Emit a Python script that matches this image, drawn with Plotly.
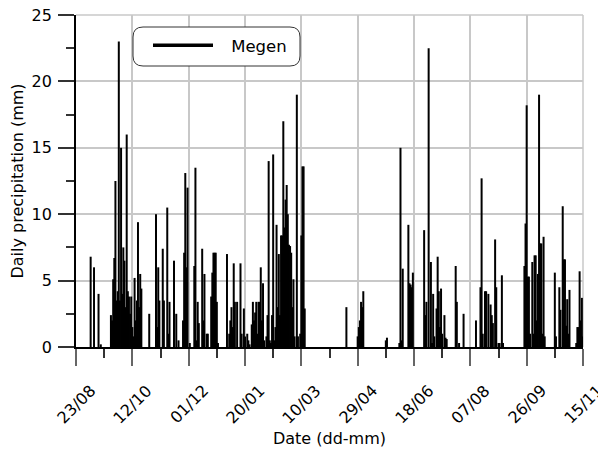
import plotly.graph_objects as go
import pandas as pd

start_date = "2007-08-23"
series_name = "Megen"
tick_labels = ["23/08", "12/10", "01/12", "20/01", "10/03", "29/04",
               "18/06", "07/08", "26/09", "15/11"]

# day offset from start date, and daily precipitation (mm)
rain_day = [13, 16, 20, 22,
            31, 32, 33, 34, 35, 36, 37, 38, 39, 40, 41, 42, 43, 44, 45, 46, 47, 48, 49,
            50, 51, 52, 53, 54, 55, 56, 57, 58,
            65, 71, 72, 73, 74, 77, 78, 81, 82, 83, 87, 89, 91,
            95, 96, 97, 98, 99, 101, 105, 106, 107, 108, 109, 112, 113, 114, 116, 117,
            120, 121, 122, 123, 124, 125, 126,
            134, 136, 137, 138, 139, 140, 141, 143, 146, 147, 149, 150, 152, 153, 154,
            156, 157, 158, 159, 160, 161, 162, 163, 164, 165, 166, 167, 169, 170, 171,
            172, 173, 174, 175, 176, 177, 178, 179, 180, 181, 182, 183, 184, 185, 186,
            187, 188, 189, 190, 191, 192, 193, 194, 196, 197, 199, 200, 201, 202, 203,
            240, 250, 251, 252, 253, 254, 255, 275, 276,
            287, 288, 289, 290, 295, 296, 297, 298, 299,
            309, 310, 311, 313, 315, 316, 317, 318, 320, 321, 322, 323, 324, 325, 327,
            328, 329, 337, 338, 340, 344,
            355, 359, 360, 361, 363, 364, 366, 368, 369, 370, 372, 373, 375, 376, 378, 379,
            398, 399, 400, 401, 402, 403, 405, 406, 407, 408, 409, 410, 411, 412, 413,
            414, 415, 416, 425, 426, 429, 430, 432, 433, 434, 435, 436, 437, 438,
            444, 445, 446, 447, 448, 449, 450]
rain_mm = [6.8, 6.0, 4.0, 0.2,
           2.4, 2.0, 5.1, 6.7, 12.5, 3.5, 4.2, 23.0, 3.5, 15.0, 4.0, 7.5, 6.5, 3.0, 16.0, 4.2, 3.8, 2.5, 3.8,
           1.5, 0.8, 5.2, 2.0, 3.5, 9.4, 3.0, 5.5, 4.4,
           2.5, 10.0, 1.5, 6.0, 3.5, 7.4, 3.5, 10.5, 1.0, 3.4, 6.5, 2.5, 0.5,
           2.0, 7.1, 13.1, 6.0, 12.0, 0.3, 6.1, 13.5, 0.5, 3.4, 1.8, 7.4, 2.0, 5.5, 1.0, 1.0,
           3.8, 5.6, 7.1, 7.1, 7.1, 3.4, 0.3,
           7.0, 1.0, 2.0, 3.0, 1.5, 6.3, 3.4, 3.4, 6.3, 1.0, 2.9, 0.8, 1.0, 0.5, 0.2,
           1.7, 3.4, 2.0, 2.6, 3.4, 1.0, 3.4, 3.4, 6.0, 2.0, 4.8, 0.5, 0.8, 2.4, 14.0,
           0.5, 0.3, 2.4, 14.5, 0.5, 1.5, 9.2, 3.0, 7.0, 2.4, 8.4, 8.4, 17.0, 9.0, 11.1,
           12.2, 10.0, 7.7, 7.6, 7.1, 3.0, 5.1, 0.8, 19.0, 0.8, 1.0, 8.4, 13.6, 13.6, 2.9,
           3.0, 0.8, 1.5, 2.0, 3.4, 3.0, 4.2, 0.5, 0.7,
           0.3, 15.0, 0.5, 5.9, 9.2, 4.8, 4.7, 4.5, 5.6,
           8.8, 2.4, 3.4, 22.5, 6.4, 0.3, 4.0, 0.8, 2.9, 6.8, 4.2, 1.5, 4.4, 1.0, 2.4,
           0.7, 0.6, 6.1, 3.4, 0.3, 2.5,
           2.0, 4.5, 12.7, 1.0, 4.2, 4.2, 4.0, 3.2, 2.4, 1.8, 8.1, 4.5, 0.3, 0.3, 5.4, 0.3,
           6.1, 9.3, 18.2, 5.3, 5.3, 1.0, 6.4, 1.0, 6.9, 6.9, 2.0, 5.5, 19.0, 7.8, 7.8,
           1.0, 8.3, 0.8, 5.6, 0.8, 4.5, 2.8, 10.6, 6.6, 6.6, 1.6, 3.6, 1.0, 4.3,
           0.3, 1.5, 1.5, 5.7, 2.0, 3.7, 0.8]

FONT = "DejaVu Sans"
GRID = "#c8c8c8"
# page body has an 8px margin: figure sized so it ends at the window edge
OFF = 8
W, H = 606 - OFF, 453 - OFF
ML, MR, MT, MB = 76 - OFF, 23, 15 - OFF, 106
PW, PH = W - ML - MR, H - MT - MB

t0 = pd.Timestamp(start_date)
DAY_MS = 86400000
tick_dates = [t0 + pd.Timedelta(days=50 * k) for k in range(len(tick_labels))]

xs, ys = [], []
for d, v in zip(rain_day, rain_mm):
    dt = t0 + pd.Timedelta(days=d)
    xs += [dt, dt, None]
    ys += [0, v, None]

fig = go.Figure()
fig.add_trace(go.Scatter(x=xs, y=ys, mode="lines", line=dict(color="black", width=2),
                         showlegend=False, hoverinfo="skip"))
fig.add_trace(go.Scatter(x=[None], y=[None], mode="lines",
                         name="\u2009\u2009\u2009\u2009" + series_name,
                         line=dict(color="black", width=3.5), showlegend=True))

# tick labels (centered on the tick, rotated)
for td, lab in zip(tick_dates, tick_labels):
    fig.add_annotation(x=td, y=0, xref="x", yref="paper", text=lab, showarrow=False,
                       textangle=-45, xanchor="center", yanchor="middle",
                       yshift=-57, xshift=0, font=dict(family=FONT, size=16, color="black"))

# grid lines on the top and right edges of the frame
fig.add_shape(type="line", xref="paper", yref="paper", x0=0, x1=1, y0=1, y1=1,
              line=dict(color=GRID, width=1.5), layer="below")
fig.add_shape(type="line", xref="paper", yref="paper", x0=1, x1=1, y0=0, y1=1,
              line=dict(color=GRID, width=1.5), layer="below")

# rounded legend frame (positions given in window pixels)
def px2paper(px, py):
    return (px - OFF - ML) / PW, (MT + PH - (py - OFF)) / PH
x0p, y0p = px2paper(133, 66)
x1p, y1p = px2paper(300, 27)
rx, ry = 10 / PW, 10 / PH
path = (f"M{x0p+rx},{y0p} L{x1p-rx},{y0p} Q{x1p},{y0p} {x1p},{y0p+ry} "
        f"L{x1p},{y1p-ry} Q{x1p},{y1p} {x1p-rx},{y1p} L{x0p+rx},{y1p} "
        f"Q{x0p},{y1p} {x0p},{y1p-ry} L{x0p},{y0p+ry} Q{x0p},{y0p} {x0p+rx},{y0p} Z")
fig.add_shape(type="path", path=path, xref="paper", yref="paper",
              line=dict(color="#333333", width=1), fillcolor="white", layer="above")

lx, ly = px2paper(148, 28)
fig.update_layout(
    width=W, height=H,
    margin=dict(l=ML, r=MR, t=MT, b=MB),
    paper_bgcolor="white", plot_bgcolor="white",
    font=dict(family=FONT, size=16, color="black"),
    legend=dict(x=lx, y=ly, xanchor="left", yanchor="top", bgcolor="rgba(0,0,0,0)",
                borderwidth=0, itemwidth=60, font=dict(family=FONT, size=16.5)),
    xaxis=dict(
        type="date", range=[tick_dates[0], tick_dates[-1]], automargin=False,
        tickmode="array", tickvals=tick_dates, showticklabels=False,
        showgrid=True, gridcolor=GRID, gridwidth=1.5,
        showline=True, linecolor="black", linewidth=1.5,
        ticks="outside", ticklen=17, tickcolor="#666666", tickwidth=1.5,
        minor=dict(dtick=25 * DAY_MS, tick0=tick_dates[0], ticks="outside", ticklen=9,
                   tickcolor="#333333", tickwidth=1.5, showgrid=False),
        title=dict(text="Date (dd-mm)", standoff=68, font=dict(size=16)),
        zeroline=False,
    ),
    yaxis=dict(
        range=[0, 25], tickmode="linear", tick0=0, dtick=5, automargin=False,
        showgrid=True, gridcolor=GRID, gridwidth=1.5,
        showline=True, linecolor="black", linewidth=1.5,
        ticks="outside", ticklen=16, tickcolor="#333333", tickwidth=1.5,
        ticksuffix="\u2009", ticklabeloverflow="allow",
        minor=dict(dtick=2.5, ticks="outside", ticklen=8, tickcolor="#333333",
                   tickwidth=1.5, showgrid=False),
        title=dict(text="Daily precipitation (mm)", standoff=12, font=dict(size=16)),
        tickfont=dict(size=16), zeroline=False,
    ),
)

fig.write_html("out.html")
